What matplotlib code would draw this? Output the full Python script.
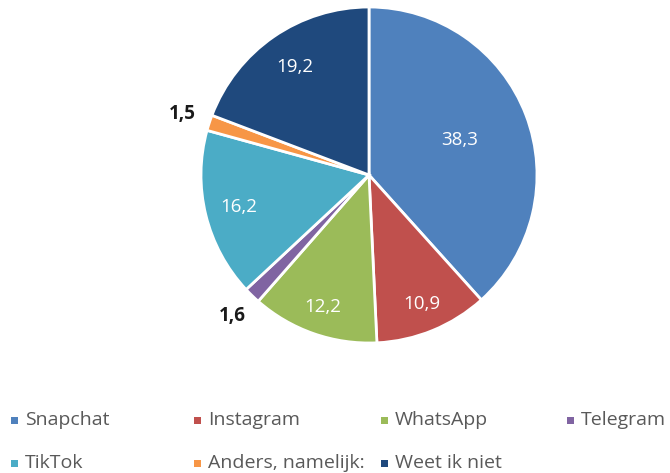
import numpy as np
import matplotlib
matplotlib.use("Agg")
import matplotlib.pyplot as plt
from matplotlib.patches import Rectangle

categories = ["Snapchat", "Instagram", "WhatsApp", "Telegram", "TikTok",
              "Anders, namelijk:", "Weet ik niet"]
values = [38.3, 10.9, 12.2, 1.6, 16.2, 1.5, 19.2]
value_labels = ["38,3", "10,9", "12,2", "1,6", "16,2", "1,5", "19,2"]
colors = ["#4F81BD", "#C0504D", "#9BBB59", "#8064A2", "#4BACC6", "#F79646", "#1F497D"]
label_dist = [0.58, 0.83, 0.83, 1.17, 0.80, 1.17, 0.78]
label_color = ["white", "white", "white", "#1a1a1a", "white", "#1a1a1a", "white"]

FONT = "Open Sans"
W, H = 670, 473
fig = plt.figure(figsize=(W / 100, H / 100), dpi=100)
cx, cy, r = 369, 175, 168
ax = fig.add_axes([(cx - r) / W, 1 - (cy + r) / H, 2 * r / W, 2 * r / H])
wedges, _ = ax.pie(values, colors=colors, startangle=90, counterclock=False,
                   radius=1, wedgeprops=dict(edgecolor="white", linewidth=2))
ax.set_xlim(-1, 1)
ax.set_ylim(-1, 1)
ax.set_aspect("equal")
ax.axis("off")

total = sum(values)
cum = 0
for v, lab, d, c in zip(values, value_labels, label_dist, label_color):
    mid = cum + v / 2
    cum += v
    ang = np.deg2rad(90 - 360 * mid / total)
    ax.text(d * np.cos(ang), d * np.sin(ang), lab, ha="center", va="center",
            color=c, fontsize=13.5, family=FONT,
            fontweight="bold" if c != "white" else "normal")

col_x = [14, 197, 384, 570]
row_y = [420, 463]
for i, (name, col) in enumerate(zip(categories, colors)):
    x = col_x[i % 4]
    y = row_y[i // 4]
    fig.patches.append(Rectangle(((x - 3.5) / W, 1 - (y + 3.5) / H), 7 / W, 7 / H,
                                 transform=fig.transFigure, facecolor=col,
                                 edgecolor="none"))
    fig.text((x + 11) / W, 1 - y / H, name, ha="left", va="center",
             fontsize=14, color="#595959", family=FONT)

fig.savefig("out.png", dpi=100, facecolor="white")
